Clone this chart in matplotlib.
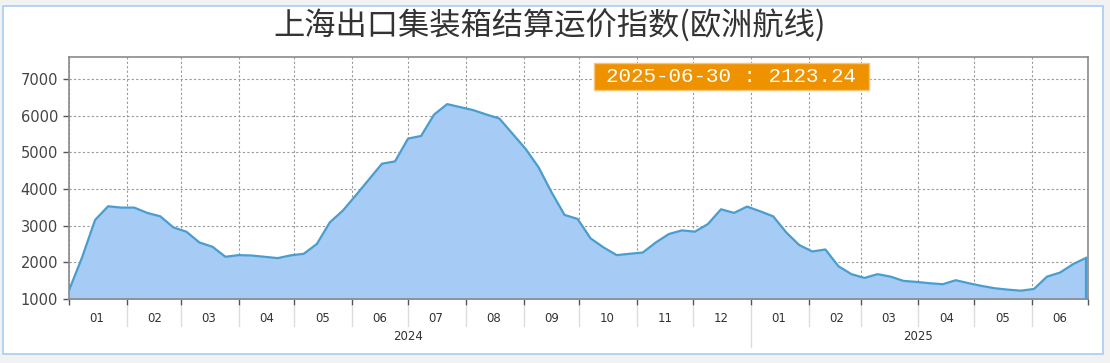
import pandas as pd
import matplotlib
matplotlib.use('Agg')
import matplotlib.pyplot as plt
import matplotlib.dates as mdates
import matplotlib.transforms as mtransforms
from matplotlib.patches import Rectangle

# weekly index values (Monday releases), 2024-01-01 .. 2025-06-30
start_date = '2024-01-01'
index_values = [
    1238, 2132, 3156, 3529, 3493, 3493, 3348, 3255, 2953, 2836,
    2542, 2425, 2151, 2197, 2186, 2151, 2115, 2190, 2233, 2498,
    3090, 3411, 3830, 4260, 4690, 4753, 5375, 5447, 6032, 6315,
    6233, 6151, 6032, 5923, 5512, 5101, 4597, 3912, 3293, 3184,
    2652, 2405, 2197, 2233, 2268, 2542, 2772, 2871, 2836, 3046,
    3447, 3348, 3521, 3392, 3255, 2816, 2471, 2296, 2351, 1896,
    1677, 1575, 1677, 1611, 1493, 1466, 1430, 1403, 1512, 1430,
    1356, 1293, 1255, 1227, 1274, 1611, 1721, 1951, 2123.24,
]
dates = pd.date_range(start_date, periods=len(index_values), freq='7D')
y_ticks = [1000, 2000, 3000, 4000, 5000, 6000, 7000]
years = ['2024', '2025']
title = '上海出口集装箱结算运价指数(欧洲航线)'
last_label = '2025-06-30 : 2123.24'

plt.rcParams['font.family'] = ['DejaVu Sans', 'Noto Sans CJK SC']

fig = plt.figure(figsize=(11.1, 3.63), dpi=100)
fig.patch.set_facecolor('#f2f2f2')
panel = Rectangle((3 / 1110, 9 / 363), 1100 / 1110, 348 / 363, transform=fig.transFigure,
                  facecolor='white', edgecolor='#a8cdf2', linewidth=1.2, zorder=-5)
fig.patches.append(panel)

ax = fig.add_axes([69 / 1110, 64 / 363, 1019 / 1110, 242 / 363])
ax.set_zorder(2)
ax.fill_between(dates, 1000, index_values, color='#a6cbf4', zorder=2)
ax.plot(dates, index_values, color='#4a9dcf', lw=1.6, zorder=3)
ax.vlines(dates[-1], 1000, index_values[-1], color='#4a9dcf', lw=1.6, zorder=3)

ax.set_ylim(1000, 7600)
ax.set_xlim(dates[0], dates[-1] + pd.Timedelta(days=1))
ax.set_yticks(y_ticks)
ax.tick_params(axis='y', length=4, width=1, color='#555555', labelsize=10.5, labelcolor='#444444', pad=4)

# month boundaries as major ticks, month names at mid-month
ax.xaxis.set_major_locator(mdates.MonthLocator())
ax.xaxis.set_major_formatter(plt.NullFormatter())
ax.xaxis.set_minor_locator(mdates.MonthLocator(bymonthday=16))
ax.xaxis.set_minor_formatter(mdates.DateFormatter('%m'))
ax.tick_params(axis='x', which='major', length=4, width=1, color='#555555')
ax.tick_params(axis='x', which='minor', length=0, labelsize=8.5, labelcolor='#333333', pad=9)

ax.grid(True, which='major', linestyle=(0, (2, 2)), color='#999999', lw=0.8, zorder=1)
for s in ax.spines.values():
    s.set_color('#8a8a8a')
    s.set_linewidth(1.2)

# separators under the month labels
trans = mtransforms.blended_transform_factory(ax.transData, ax.transAxes)
for d in pd.date_range('2024-02-01', '2025-06-01', freq='MS'):
    low = -0.2 if d == pd.Timestamp('2025-01-01') else -0.11
    ax.plot([d, d], [-0.03, low], transform=trans, color='#dcdcdc', lw=1, clip_on=False)

ax.text(pd.Timestamp('2024-07-01'), -0.157, years[0], transform=trans, ha='center', va='center',
        fontsize=8.5, color='#333333')
ax.text(pd.Timestamp('2025-04-01'), -0.157, years[1], transform=trans, ha='center', va='center',
        fontsize=8.5, color='#333333')

fig.text(550 / 1110, 1 - 26 / 363, title, ha='center', va='center', fontsize=22.5, color='#333333',
         family=['Noto Sans CJK SC', 'DejaVu Sans'])

badge = Rectangle((594 / 1110, 273 / 363), 275 / 1110, 27 / 363, transform=fig.transFigure,
                  facecolor='#ee9200', edgecolor='#f6c57a', linewidth=1, zorder=5)
fig.patches.append(badge)
fig.text(731.5 / 1110, 1 - 77 / 363, last_label, ha='center', va='center', fontsize=15,
         color='white', family='Liberation Mono', zorder=6)

fig.savefig('out.png', dpi=100, facecolor=fig.get_facecolor())
